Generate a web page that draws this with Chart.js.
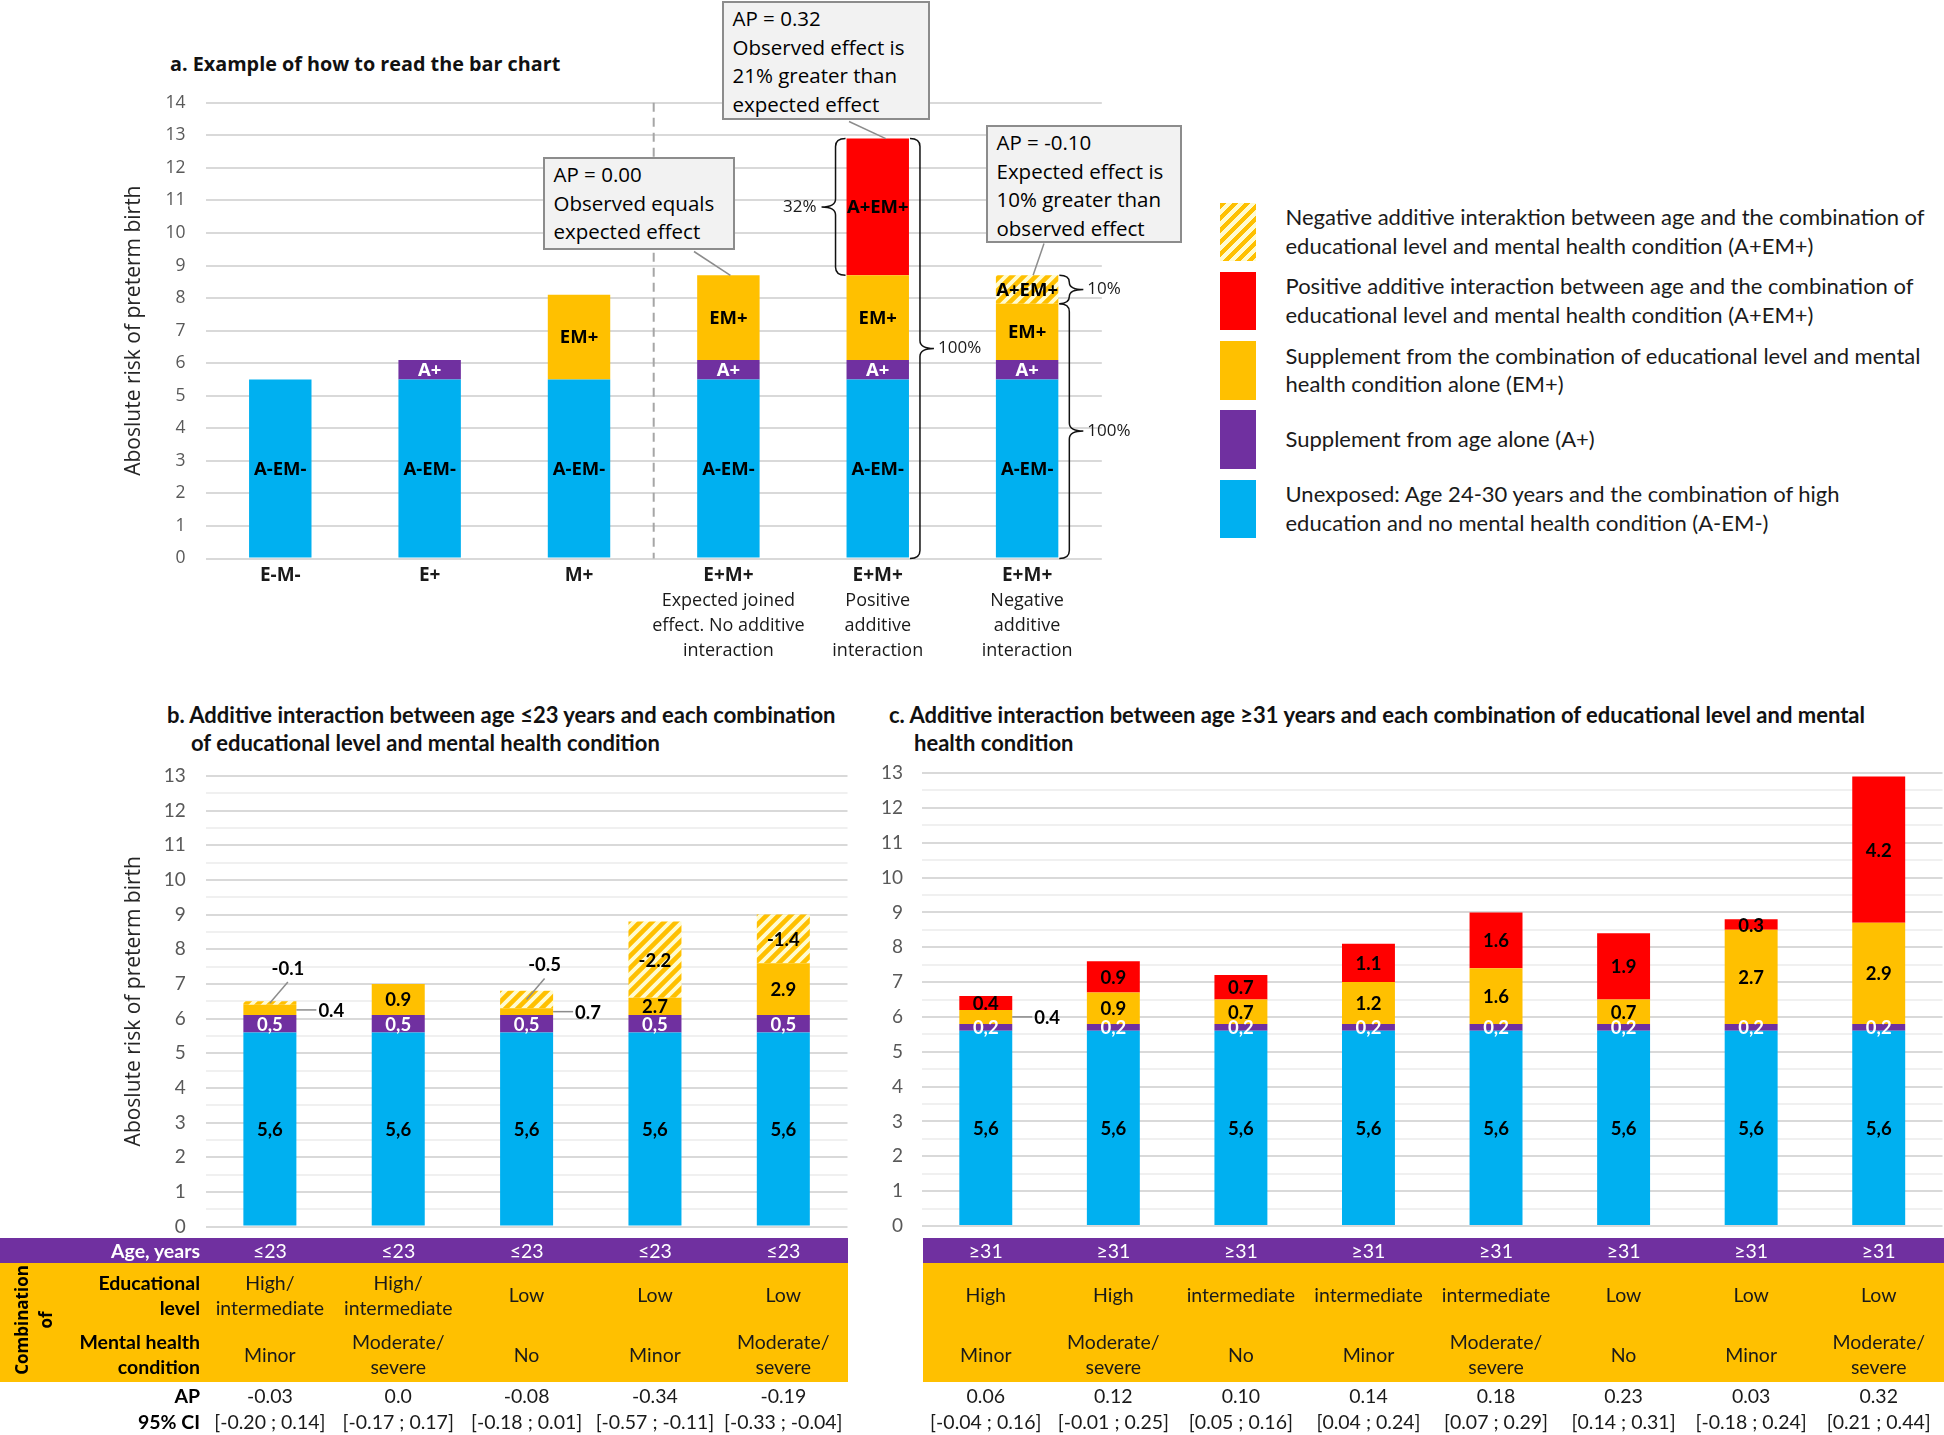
<!DOCTYPE html>
<html>
<head>
<meta charset="utf-8">
<script src="https://cdn.jsdelivr.net/npm/chart.js@4.4.0/dist/chart.umd.min.js"></script>
<style>
  body { margin:0; width:1944px; height:1435px; position:relative; background:#fff; overflow:hidden; font-family:Lato, sans-serif; color:#000; }
  .abs { position:absolute; white-space:nowrap; }
  canvas { position:absolute; }
  .box { position:absolute; box-sizing:border-box; background:#f2f2f2; border:2px solid #8c8c8c; font:20.5px 'Open Sans'; line-height:28.7px; padding:1px 0 0 8.5px; white-space:nowrap; }
  .swatch { position:absolute; left:1220px; width:35.5px; height:58.5px; }
  .legtext { position:absolute; left:1285.5px; font-size:22px; line-height:28.7px; color:#1a1a1a; white-space:nowrap; }
  .ptitle { position:absolute; font-weight:700; font-size:22px; line-height:27.7px; white-space:nowrap; color:#111; }
  .band { position:absolute; }
  .cell { position:absolute; height:50px; display:flex; align-items:center; justify-content:center; text-align:center; line-height:25px; font-size:19.5px; color:#1a1a1a; white-space:nowrap; }
  .rowlab { justify-content:flex-end; text-align:right; font-weight:700; color:#000; }
</style>
</head>
<body>

<div class="abs" style="left:170px;top:51px;font:700 19.8px 'Open Sans';line-height:26px;color:#111">a. Example of how to read the bar chart</div>
<canvas id="chartA" width="1050" height="610" style="left:100px;top:60px"></canvas>

<div class="box" style="left:543px;top:157px;width:192px;height:93px">AP = 0.00<br>Observed equals<br>expected effect</div>
<div class="box" style="left:722px;top:1px;width:208px;height:119px">AP = 0.32<br>Observed effect is<br>21% greater than<br>expected effect</div>
<div class="box" style="left:986px;top:125px;width:196px;height:118px">AP = -0.10<br>Expected effect is<br>10% greater than<br>observed effect</div>

<div class="swatch" style="top:202.5px;background:repeating-linear-gradient(135deg,#ffc000 0 4.5px,#fffbd0 4.5px 8.5px)"></div>
<div class="legtext" style="top:203px">Negative additive interaktion between age and the combination of<br>educational level and mental health condition (A+EM+)</div>
<div class="swatch" style="top:271.5px;background:#ff0000"></div>
<div class="legtext" style="top:272px">Positive additive interaction between age and the combination of<br>educational level and mental health condition (A+EM+)</div>
<div class="swatch" style="top:341px;background:#ffc000"></div>
<div class="legtext" style="top:341.5px">Supplement from the combination of educational level and mental<br>health condition alone (EM+)</div>
<div class="swatch" style="top:410px;background:#7030a0"></div>
<div class="legtext" style="top:425px">Supplement from age alone (A+)</div>
<div class="swatch" style="top:479.5px;background:#00b0f0"></div>
<div class="legtext" style="top:480px">Unexposed: Age 24-30 years and the combination of high<br>education and no mental health condition (A-EM-)</div>

<div class="ptitle" style="left:167px;top:701px">b. Additive interaction between age ≤23 years and each combination<br><span style="padding-left:24px">of educational level and mental health condition</span></div>
<div class="ptitle" style="left:889px;top:701px">c. Additive interaction between age ≥31 years and each combination of educational level and mental<br><span style="padding-left:25px">health condition</span></div>

<canvas id="chartB" width="760" height="540" style="left:100px;top:730px"></canvas>
<canvas id="chartC" width="1084" height="543" style="left:860px;top:727px"></canvas>

<div class="band" style="left:0;top:1238px;width:847.5px;height:24.5px;background:#7030a0"></div>
<div class="band" style="left:0;top:1262.5px;width:847.5px;height:119px;background:#ffc000"></div>
<div class="band" style="left:923px;top:1238px;width:1021px;height:24.5px;background:#7030a0"></div>
<div class="band" style="left:923px;top:1262.5px;width:1021px;height:119px;background:#ffc000"></div>
<div class="abs" style="left:-31px;top:1296px;width:130px;height:48px;text-align:center;font:700 17px 'Open Sans';line-height:24px;transform:rotate(-90deg)">Combination<br>of</div>

<script>
//Colours used for the stacked parts
const BLUE = '#00b0f0';
const PURPLE = '#7030a0';
const ORANGE = '#ffc000';
const RED = '#ff0000';

//Panel a: example bars
const aCats = ['E-M-', 'E+', 'M+', 'E+M+', 'E+M+', 'E+M+'];
const aCatNotes = [[], [], [], ['Expected joined', 'effect. No additive', 'interaction'], ['Positive', 'additive', 'interaction'], ['Negative', 'additive', 'interaction']];
const aBase = [5.5, 5.5, 5.5, 5.5, 5.5, 5.5];
const aAge = [0, 0.6, 0, 0.6, 0.6, 0.6];
const aEM = [0, 0, 2.6, 2.6, 2.6, 2.6];
const aInter = [0, 0, 0, 0, 4.2, -0.87];

//Panel b: age <=23
const bAgeTxt = ['≤23', '≤23', '≤23', '≤23', '≤23'];
const bEdu = ['High/\nintermediate', 'High/\nintermediate', 'Low', 'Low', 'Low'];
const bMental = ['Minor', 'Moderate/\nsevere', 'No', 'Minor', 'Moderate/\nsevere'];
const bBase = [5.6, 5.6, 5.6, 5.6, 5.6];
const bAge = [0.5, 0.5, 0.5, 0.5, 0.5];
const bEM = [0.4, 0.9, 0.7, 2.7, 2.9];
const bInter = [-0.1, 0.0, -0.5, -2.2, -1.4];
const bEmOut = [true, false, true, false, false];
const bInterOut = [true, false, true, false, false];
const bAP = ['-0.03', '0.0', '-0.08', '-0.34', '-0.19'];
const bCI = ['[-0.20 ; 0.14]', '[-0.17 ; 0.17]', '[-0.18 ; 0.01]', '[-0.57 ; -0.11]', '[-0.33 ; -0.04]'];

//Panel c: age >=31
const cAgeTxt = ['≥31', '≥31', '≥31', '≥31', '≥31', '≥31', '≥31', '≥31'];
const cEdu = ['High', 'High', 'intermediate', 'intermediate', 'intermediate', 'Low', 'Low', 'Low'];
const cMental = ['Minor', 'Moderate/\nsevere', 'No', 'Minor', 'Moderate/\nsevere', 'No', 'Minor', 'Moderate/\nsevere'];
const cBase = [5.6, 5.6, 5.6, 5.6, 5.6, 5.6, 5.6, 5.6];
const cAge = [0.2, 0.2, 0.2, 0.2, 0.2, 0.2, 0.2, 0.2];
const cEM = [0.4, 0.9, 0.7, 1.2, 1.6, 0.7, 2.7, 2.9];
const cInter = [0.4, 0.9, 0.7, 1.1, 1.6, 1.9, 0.3, 4.2];
const cEmOut = [true, false, false, false, false, false, false, false];
const cAP = ['0.06', '0.12', '0.10', '0.14', '0.18', '0.23', '0.03', '0.32'];
const cCI = ['[-0.04 ; 0.16]', '[-0.01 ; 0.25]', '[0.05 ; 0.16]', '[0.04 ; 0.24]', '[0.07 ; 0.29]', '[0.14 ; 0.31]', '[-0.18 ; 0.24]', '[0.21 ; 0.44]'];

//Striped fill for negative interaction
function makeHatch() {
  const c = document.createElement('canvas');
  c.width = 12; c.height = 12;
  const g = c.getContext('2d');
  g.fillStyle = '#fffbd0';
  g.fillRect(0, 0, 12, 12);
  g.strokeStyle = ORANGE;
  g.lineWidth = 4.6;
  g.beginPath();
  g.moveTo(-3, 15); g.lineTo(15, -3);
  g.moveTo(-6, 6); g.lineTo(6, -6);
  g.moveTo(6, 18); g.lineTo(18, 6);
  g.stroke();
  return g.createPattern(c, 'repeat');
}
const hatch = makeHatch();

function comma(v) { return v.toFixed(1).replace('.', ','); }

function leader(ctx, pts) {
  ctx.save();
  ctx.strokeStyle = '#8c8c8c';
  ctx.lineWidth = 1.5;
  ctx.beginPath();
  ctx.moveTo(pts[0][0], pts[0][1]);
  for (let k = 1; k < pts.length; k++) ctx.lineTo(pts[k][0], pts[k][1]);
  ctx.stroke();
  ctx.restore();
}

//Split supplement + interaction into visible stacked parts
function buildDatasets(base, age, em, inter, txt) {
  const orange = em.map((v, i) => +(v + Math.min(inter[i], 0)).toFixed(2));
  const red = inter.map(v => Math.max(v, 0));
  const neg = inter.map(v => Math.max(-v, 0));
  return [
    {data: base, backgroundColor: BLUE, labelText: base.map(txt.base), labelColor: '#000'},
    {data: age, backgroundColor: PURPLE, labelText: age.map(txt.age), labelColor: '#fff'},
    {data: orange, backgroundColor: ORANGE, labelText: em.map(txt.em), labelColor: '#000', labelOut: txt.emOut},
    {data: red, backgroundColor: RED, labelText: red.map(txt.red), labelColor: '#000'},
    {data: neg, backgroundColor: hatch, labelText: neg.map(txt.neg), labelColor: '#000', labelOut: txt.negOut}
  ];
}

//Labels written on every stacked part
const segLabels = {
  id: 'segLabels',
  afterDatasetsDraw(chart, args, opts) {
    const ctx = chart.ctx;
    ctx.save();
    ctx.font = opts.font;
    ctx.textBaseline = 'middle';
    chart.data.datasets.forEach((ds, di) => {
      const meta = chart.getDatasetMeta(di);
      meta.data.forEach((bar, i) => {
        const txt = ds.labelText[i];
        if (!txt) return;
        const yMid = (bar.y + bar.base) / 2;
        const place = ds.labelOut ? (ds.labelOut[i] ? (di === 4 ? 'above' : 'right') : null) : null;
        ctx.fillStyle = ds.labelColor;
        if (place === 'right') {
          const x0 = bar.x + bar.width / 2;
          leader(ctx, [[x0, yMid], [x0 + 20, yMid]]);
          ctx.textAlign = 'left';
          ctx.fillText(txt, x0 + 22, yMid + 1);
        } else if (place === 'above') {
          leader(ctx, [[bar.x, yMid], [bar.x + 18, yMid - 21]]);
          ctx.textAlign = 'center';
          ctx.fillText(txt, bar.x + 18, yMid - 34);
        } else {
          ctx.textAlign = 'center';
          ctx.fillText(txt, bar.x, yMid + 1);
        }
      });
    });
    ctx.restore();
  }
};

//Curly brace, dir 1 = opens to the right
function drawBrace(ctx, x0, y1, y2, dir) {
  const xv = x0 + dir * 10, xt = x0 + dir * 24;
  const r = Math.min(8, (y2 - y1) / 4);
  const ym = (y1 + y2) / 2;
  ctx.beginPath();
  ctx.moveTo(x0, y1);
  ctx.quadraticCurveTo(xv, y1, xv, y1 + r);
  ctx.lineTo(xv, ym - r);
  ctx.quadraticCurveTo(xv, ym, xt, ym);
  ctx.quadraticCurveTo(xv, ym, xv, ym + r);
  ctx.lineTo(xv, y2 - r);
  ctx.quadraticCurveTo(xv, y2, x0, y2);
  ctx.stroke();
  return xt;
}

//Panel a extras: divider, category texts, braces and callout lines
const panelAExtras = {
  id: 'panelAExtras',
  afterDraw(chart) {
    const {ctx, chartArea, scales: {x, y}} = chart;
    const bars = chart.getDatasetMeta(0).data;
    const top = aBase.map((v, i) => v + aAge[i] + aEM[i] + Math.max(aInter[i], 0));
    const emTop = aBase.map((v, i) => v + aAge[i] + aEM[i] + Math.min(aInter[i], 0));
    ctx.save();
    const xs = (x.getPixelForValue(2) + x.getPixelForValue(3)) / 2;
    ctx.strokeStyle = '#a6a6a6';
    ctx.lineWidth = 2;
    ctx.setLineDash([9, 6]);
    ctx.beginPath();
    ctx.moveTo(xs, chartArea.top);
    ctx.lineTo(xs, chartArea.bottom);
    ctx.stroke();
    ctx.setLineDash([]);

    ctx.textAlign = 'center';
    ctx.textBaseline = 'middle';
    ctx.fillStyle = '#1a1a1a';
    aCats.forEach((c, i) => {
      const cx = x.getPixelForValue(i);
      ctx.font = '700 19px "Open Sans"';
      ctx.fillText(c, cx, chartArea.bottom + 17.5);
      ctx.font = '18px "Open Sans"';
      aCatNotes[i].forEach((t, k) => ctx.fillText(t, cx, chartArea.bottom + 42 + k * 25));
    });

    ctx.strokeStyle = '#111';
    ctx.lineWidth = 1.5;
    ctx.font = '17px "Open Sans"';
    const p = bars[4], n = bars[5];
    let xt = drawBrace(ctx, p.x - p.width / 2 - 1, y.getPixelForValue(top[4]), y.getPixelForValue(emTop[4]), -1);
    ctx.textAlign = 'right';
    ctx.fillText('32%', xt - 5, (y.getPixelForValue(top[4]) + y.getPixelForValue(emTop[4])) / 2);
    ctx.textAlign = 'left';
    xt = drawBrace(ctx, p.x + p.width / 2 + 1, y.getPixelForValue(top[4]), y.getPixelForValue(0), 1);
    ctx.fillText('100%', xt + 4, (y.getPixelForValue(top[4]) + y.getPixelForValue(0)) / 2);
    xt = drawBrace(ctx, n.x + n.width / 2 + 1, y.getPixelForValue(top[5]), y.getPixelForValue(emTop[5]), 1);
    ctx.fillText('10%', xt + 4, (y.getPixelForValue(top[5]) + y.getPixelForValue(emTop[5])) / 2);
    xt = drawBrace(ctx, n.x + n.width / 2 + 1, y.getPixelForValue(emTop[5]), y.getPixelForValue(0), 1);
    ctx.fillText('100%', xt + 4, (y.getPixelForValue(emTop[5]) + y.getPixelForValue(0)) / 2);

    //callout pointers (box corners are page positions minus canvas offset)
    leader(ctx, [[594, 191.5], [bars[3].x + 2, y.getPixelForValue(top[3])]]);
    leader(ctx, [[749, 61.5], [bars[4].x + 8, y.getPixelForValue(top[4])]]);
    leader(ctx, [[944, 183.5], [bars[5].x + 6, y.getPixelForValue(top[5])]]);
    ctx.restore();
  }
};

function yAxis(max, step, width, pad, family, size, title) {
  return {
    stacked: true, min: 0, max: max,
    afterFit: s => { s.width = width; },
    border: {display: false},
    grid: {
      drawTicks: false, lineWidth: 2,
      color: c => (c.tick && c.tick.value % 1 !== 0) ? '#f0f0f0' : '#d9d9d9'
    },
    ticks: {
      stepSize: step, padding: pad, autoSkip: false, color: '#595959',
      font: {family: family, size: size},
      callback: v => (v % 1 === 0 ? v : '')
    },
    title: {
      display: !!title, text: title || '', color: '#262626',
      font: {family: 'Open Sans', size: 21}, padding: {top: 21, bottom: 0}
    }
  };
}

//Chart a
const aTxt = {
  base: v => v ? 'A-EM-' : '', age: v => v ? 'A+' : '', em: v => v ? 'EM+' : '',
  red: v => v ? 'A+EM+' : '', neg: v => v ? 'A+EM+' : ''
};
const chartA = new Chart(document.getElementById('chartA'), {
  type: 'bar',
  data: {labels: aCats, datasets: buildDatasets(aBase, aAge, aEM, aInter, aTxt)},
  options: {
    responsive: false, animation: false,
    layout: {padding: {top: 42.8, right: 48.2, bottom: 111.5, left: 0}},
    datasets: {bar: {barPercentage: 0.418, categoryPercentage: 1}},
    plugins: {legend: {display: false}, tooltip: {enabled: false}, segLabels: {font: '700 18.5px "Open Sans"'}},
    scales: {
      x: {stacked: true, display: false},
      y: yAxis(14, 1, 105.6, 20, 'Open Sans', 17.5, 'Aboslute risk of preterm birth')
    }
  },
  plugins: [segLabels, panelAExtras]
});

//Chart b
const bTxt = {
  base: comma, age: comma, em: v => v.toFixed(1), emOut: bEmOut,
  red: v => v ? v.toFixed(1) : '', neg: v => v ? (-v).toFixed(1) : '', negOut: bInterOut
};
const chartB = new Chart(document.getElementById('chartB'), {
  type: 'bar',
  data: {labels: bAgeTxt, datasets: buildDatasets(bBase, bAge, bEM, bInter, bTxt)},
  options: {
    responsive: false, animation: false,
    layout: {padding: {top: 46, right: 12.5, bottom: 43.5, left: 0}},
    datasets: {bar: {barPercentage: 0.413, categoryPercentage: 1}},
    plugins: {legend: {display: false}, tooltip: {enabled: false}, segLabels: {font: '700 18.5px Lato'}},
    scales: {
      x: {stacked: true, display: false},
      y: yAxis(13, 0.5, 105.7, 20, 'Lato', 19, 'Aboslute risk of preterm birth')
    }
  },
  plugins: [segLabels]
});

//Chart c
const cTxt = {
  base: comma, age: comma, em: v => v.toFixed(1), emOut: cEmOut,
  red: v => v ? v.toFixed(1) : '', neg: v => v ? (-v).toFixed(1) : ''
};
const chartC = new Chart(document.getElementById('chartC'), {
  type: 'bar',
  data: {labels: cAgeTxt, datasets: buildDatasets(cBase, cAge, cEM, cInter, cTxt)},
  options: {
    responsive: false, animation: false,
    layout: {padding: {top: 46, right: 1.5, bottom: 44, left: 0}},
    datasets: {bar: {barPercentage: 0.415, categoryPercentage: 1}},
    plugins: {legend: {display: false}, tooltip: {enabled: false}, segLabels: {font: '700 18.5px Lato'}},
    scales: {
      x: {stacked: true, display: false},
      y: yAxis(13, 0.5, 62, 19, 'Lato', 19, '')
    }
  },
  plugins: [segLabels]
});

//Table cells placed under each bar
function addCell(left, center, width, text, cls) {
  const d = document.createElement('div');
  d.className = 'cell ' + (cls || '');
  d.style.left = left + 'px';
  d.style.top = (center - 25) + 'px';
  d.style.width = width + 'px';
  d.innerHTML = text.replace('\n', '<br>');
  document.body.appendChild(d);
  return d;
}
const rowY = {age: 1250.5, edu: 1294.5, mental: 1354, ap: 1395.5, ci: 1421};

function addTable(chart, offsetX, ageTxt, edu, mental, ap, ci) {
  ageTxt.forEach((t, i) => {
    const cx = offsetX + chart.scales.x.getPixelForValue(i);
    addCell(cx - 64, rowY.age, 128, t).style.color = '#fff';
    addCell(cx - 64, rowY.edu, 128, edu[i]);
    addCell(cx - 64, rowY.mental, 128, mental[i]);
    addCell(cx - 64, rowY.ap, 128, ap[i]);
    addCell(cx - 64, rowY.ci, 128, ci[i]);
  });
}
addTable(chartB, 100, bAgeTxt, bEdu, bMental, bAP, bCI);
addTable(chartC, 860, cAgeTxt, cEdu, cMental, cAP, cCI);

addCell(40, rowY.age, 160, 'Age, years', 'rowlab').style.color = '#fff';
addCell(40, rowY.edu, 160, 'Educational\nlevel', 'rowlab');
addCell(40, rowY.mental, 160, 'Mental health\ncondition', 'rowlab');
addCell(40, rowY.ap, 160, 'AP', 'rowlab');
addCell(40, rowY.ci, 160, '95% CI', 'rowlab');
</script>
</body>
</html>
